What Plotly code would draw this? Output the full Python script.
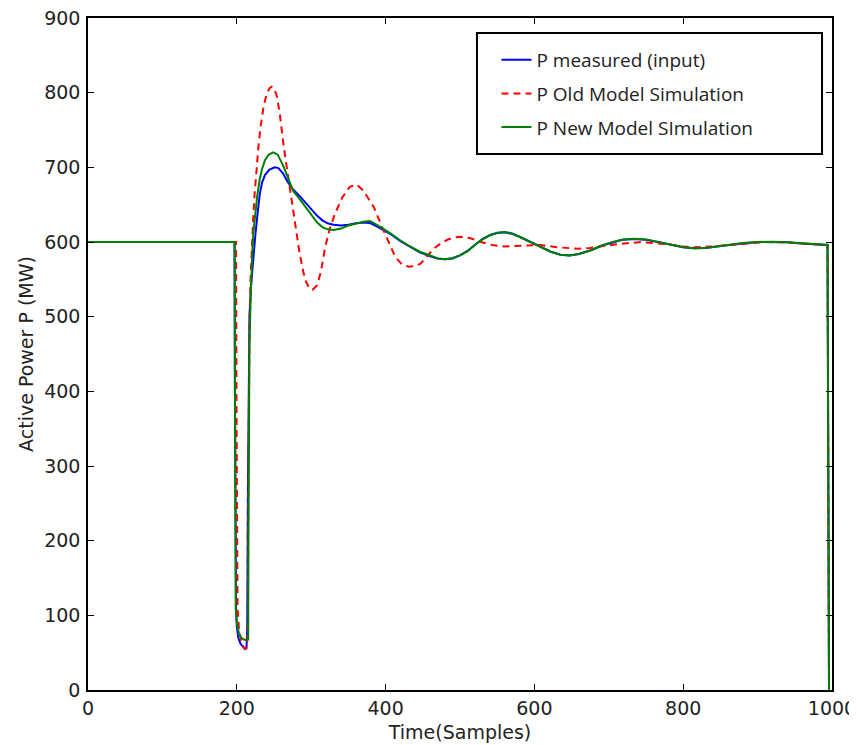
import plotly.graph_objects as go

# ---------------- data ----------------
x_measured = [0, 197, 197.5, 198, 199, 200, 202, 205, 208, 211, 213, 214, 214.8, 215.8, 217, 219,
              220.5, 223, 225, 227.9, 231, 234, 238, 244, 251, 256, 262, 268, 276, 284, 292, 300,
              308, 315, 322, 330, 340, 350, 360, 372, 380, 390, 406, 420, 433, 446, 460, 470, 480,
              490, 500, 510, 520, 530, 540, 550, 560, 570, 580, 595, 610, 622, 635, 647, 660, 676,
              690, 703, 718, 734, 750, 766, 783, 800, 815, 830, 845, 860, 880, 900, 920, 940, 958,
              975, 994, 996]
y_measured = [600, 600, 400, 200, 110, 85, 70, 62, 58, 55, 56, 80, 250, 420, 500, 540,
              560, 590, 610, 638, 665, 680, 690, 697, 700, 699, 692, 681, 670, 662, 653, 643,
              635, 629, 625, 623, 622, 623, 625, 626, 625, 620, 611, 601, 593, 586, 581, 578, 577,
              578, 582, 588, 596, 604, 609, 612, 613, 611, 607, 600, 592, 587, 583, 582, 584, 589,
              595, 599, 603, 604, 603, 600, 596, 593, 591.5, 592, 594, 596, 598, 600, 600, 599.5, 598,
              597, 596, 0]

x_old = [0, 199, 199.5, 200, 201, 203, 206, 209, 212, 214, 215, 215.5, 216, 217, 218.5, 220, 222,
         224, 226.5, 229, 232, 236, 240, 244, 247, 250, 254, 258, 263, 268, 274, 278, 283, 288,
         292, 297, 302, 308, 313, 319, 325, 332, 342, 352, 361, 370, 384, 397, 413, 422, 431,
         439, 447, 456, 465, 474, 483, 492, 501, 514, 528, 543, 559, 580, 600, 608, 630, 658,
         675, 689, 710, 743, 760, 779, 800, 815, 840, 860, 885, 910, 935, 958, 980, 994, 996]
y_old = [600, 600, 400, 200, 110, 80, 65, 57, 55, 60, 100, 250, 400, 490, 550, 594, 630,
         665, 700, 727, 755, 781, 798, 806, 808, 806, 795, 770, 728, 694, 660, 630, 594, 566,
         549, 539, 536, 542, 560, 594, 618, 638, 660, 674, 677, 669, 647, 616, 580, 570, 567,
         567.5, 571, 581, 591.5, 598, 603, 606, 607, 605, 600, 596, 594, 595, 596, 596, 593, 591,
         592, 594, 597, 600, 599, 597, 594, 593, 594, 596, 598, 600, 599.5, 598, 597, 596, 0]

x_new = [0, 197, 197.5, 198, 198.5, 200, 203, 207, 211, 214, 215.3, 215.6, 216, 217, 218.5, 219.4,
         221, 222.5, 224.8, 227.5, 230.6, 234, 238, 243, 249, 255, 262, 269, 276, 284, 292, 300,
         308, 315, 322, 330, 340, 350, 360, 370, 379, 390, 406, 420, 433, 446, 460, 470, 480,
         490, 500, 510, 520, 528, 540, 550, 560, 570, 580, 595, 610, 622, 635, 647, 660, 676,
         690, 703, 718, 734, 750, 766, 783, 800, 815, 830, 845, 860, 880, 900, 920, 940, 958,
         975, 994, 996]
y_new = [600, 600, 400, 200, 110, 90, 75, 69, 67, 67, 68, 200, 350, 460, 520, 549,
         590, 615, 638, 662, 683, 698, 710, 717, 720, 717, 703, 686, 668, 658, 647, 636,
         626, 620, 617, 616, 618, 622, 625, 627, 628, 622, 612, 602, 594, 587, 582, 578, 577,
         578.5, 582, 587.5, 596, 602, 609, 612.5, 613.5, 611.5, 607, 600, 592, 587, 583, 582, 584, 589,
         595, 599.5, 603, 604.5, 603.5, 600, 596, 593, 591.5, 592, 594, 596, 598.5, 600, 600.5, 599.5, 598,
         597, 596, 0]

x_ticks = [0, 200, 400, 600, 800, 1000]
y_ticks = [0, 100, 200, 300, 400, 500, 600, 700, 800, 900]

names = ["P measured (input)", "P Old Model Simulation", "P New Model SImulation"]

# ---------------- figure ----------------
fig = go.Figure()
fig.add_trace(go.Scatter(x=x_measured, y=y_measured, mode="lines", name=names[0],
                         legendgroup="a", line=dict(color="#0000ff", width=2)))
fig.add_trace(go.Scatter(x=x_old, y=y_old, mode="lines", name=names[1],
                         legendgroup="b", line=dict(color="#ff0000", width=2, dash="7px,5px")))
fig.add_trace(go.Scatter(x=x_new, y=y_new, mode="lines", name=names[2],
                         legendgroup="c", line=dict(color="#008000", width=2)))

tickfont = dict(family="DejaVu Sans", size=19, color="#222222")
titlefont = dict(family="DejaVu Sans", size=19, color="#222222")
axis_common = dict(showgrid=False, zeroline=False, showline=True, linecolor="black",
                   linewidth=1.5, mirror="ticks", ticks="inside", ticklen=6, tickwidth=1,
                   tickcolor="black", tickfont=tickfont, automargin=False,
                   ticklabeloverflow="allow")

# the page body adds an 8px offset; margins are shifted so the plot area sits where it does in the reference
fig.update_layout(
    width=857, height=745,
    margin=dict(l=80, r=33, t=10, b=63),
    paper_bgcolor="white", plot_bgcolor="white",
    xaxis=dict(range=[0, 1000], tickvals=x_ticks, ticklabelstandoff=0,
               title=dict(text="Time(Samples)", font=titlefont, standoff=8),
               **axis_common),
    yaxis=dict(range=[0, 900], tickvals=y_ticks, ticklabelstandoff=2,
               title=dict(text="Active Power P (MW)", font=titlefont, standoff=6),
               **axis_common),
    legend=dict(x=0.549, y=0.966, xanchor="left", yanchor="top",
                bgcolor="rgba(0,0,0,0)", borderwidth=0, tracegroupgap=6,
                font=dict(family="Open Sans", size=19, color="#222222")),
    shapes=[dict(type="rect", xref="paper", yref="paper", x0=0.5228, x1=0.9866, y0=0.7976, y1=0.9777,
                 line=dict(color="black", width=2), fillcolor="rgba(0,0,0,0)")],
)

fig.write_html("out.html")
